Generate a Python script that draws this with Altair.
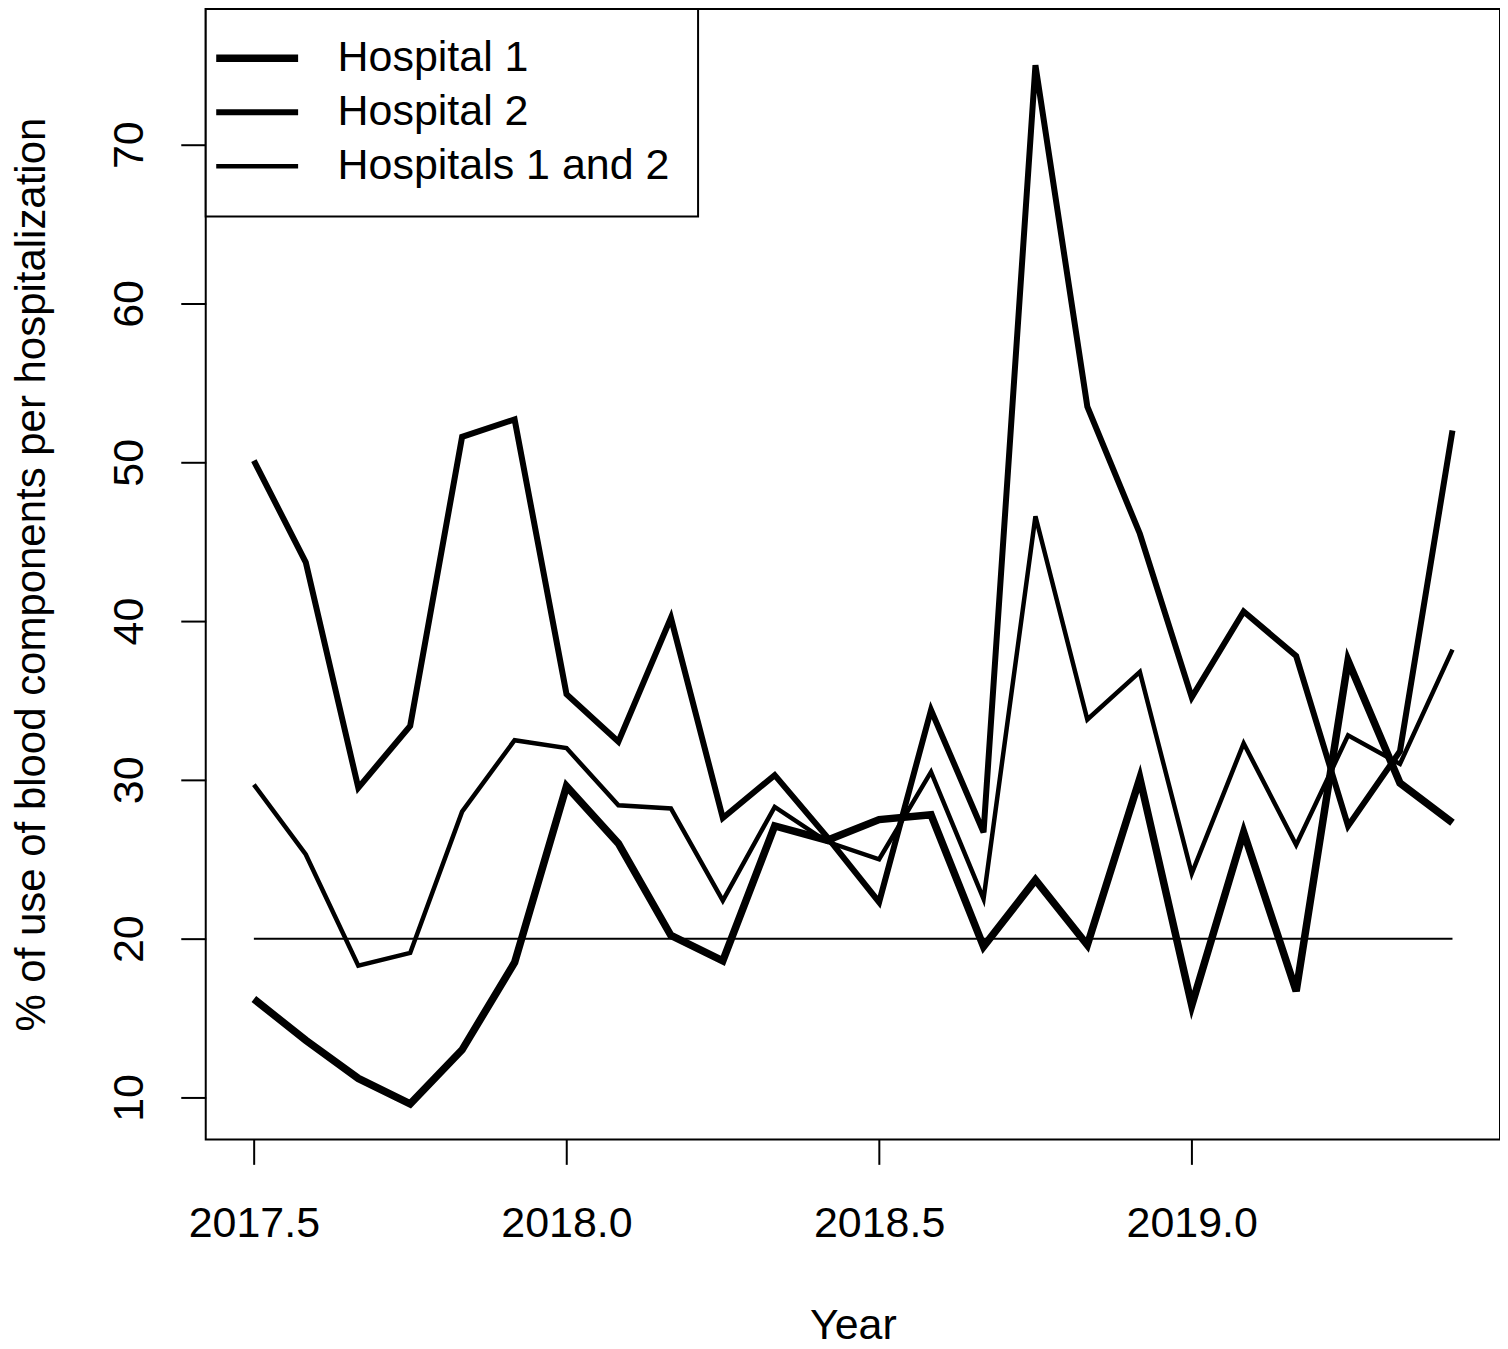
import altair as alt
import pandas as pd

years = [2017.500, 2017.583, 2017.667, 2017.750, 2017.833, 2017.917,
         2018.000, 2018.083, 2018.167, 2018.250, 2018.333, 2018.417,
         2018.500, 2018.583, 2018.667, 2018.750, 2018.833, 2018.917,
         2019.000, 2019.083, 2019.167, 2019.250, 2019.333, 2019.417]

hospital1 = [16.2, 13.6, 11.2, 9.6, 13.0, 18.5, 29.6, 26.0, 20.2, 18.6, 27.1, 26.2,
             27.5, 27.8, 19.5, 23.7, 19.6, 30.1, 15.8, 26.7, 16.7, 37.5, 29.8, 27.3]
hospital2 = [50.1, 43.7, 29.5, 33.4, 51.6, 52.7, 35.4, 32.4, 40.2, 27.6, 30.3, 26.4,
             22.3, 34.4, 26.7, 75.0, 53.5, 45.5, 35.2, 40.6, 37.8, 27.1, 31.8, 52.0]
combined = [29.7, 25.3, 18.3, 19.1, 28.0, 32.5, 32.0, 28.4, 28.2, 22.4, 28.3, 26.1,
            25.0, 30.5, 22.5, 46.6, 33.8, 36.8, 24.1, 32.3, 25.9, 32.8, 31.0, 38.2]

series_names = ["Hospital 1", "Hospital 2", "Hospitals 1 and 2"]
reference_value = 20

x_ticks = [2017.5, 2018.0, 2018.5, 2019.0]
y_ticks = [10, 20, 30, 40, 50, 60, 70]

rows = []
for name, vals in zip(series_names, [hospital1, hospital2, combined]):
    for yr, v in zip(years, vals):
        rows.append({"series": name, "year": yr, "value": v})
df = pd.DataFrame(rows)

ref_df = pd.DataFrame({"x": [years[0]], "x2": [years[-1]], "y": [reference_value]})

FONT = "Liberation Sans"
W, H = 1296, 1132

x_scale = alt.Scale(domain=[2017.423, 2019.493], nice=False, zero=False)
y_scale = alt.Scale(domain=[7.36, 78.55], nice=False, zero=False)

x_axis = alt.Axis(values=x_ticks, format=".1f", title="Year", grid=False, domain=False,
                  tickSize=25, tickWidth=2, tickColor="black",
                  labelFont=FONT, labelFontSize=43, labelColor="black",
                  labelBaseline="alphabetic", labelPadding=72, labelFlush=False,
                  titleFont=FONT, titleFontSize=43, titleFontWeight="normal", titleColor="black",
                  titleBaseline="alphabetic", titleY=199, titleX=W / 2)
y_axis = alt.Axis(values=y_ticks, format="d",
                  title="% of use of blood components per hospitalization",
                  grid=False, domain=False,
                  tickSize=25, tickWidth=2, tickColor="black",
                  labelFont=FONT, labelFontSize=43, labelColor="black",
                  labelAngle=270, labelAlign="center", labelBaseline="alphabetic",
                  labelPadding=38, labelFlush=False,
                  titleFont=FONT, titleFontSize=42, titleFontWeight="normal", titleColor="black",
                  titleAngle=270, titleBaseline="alphabetic", titleAlign="center",
                  titleX=-161, titleY=H / 2)

lines = alt.Chart(df).mark_line(color="black", strokeJoin="miter").encode(
    x=alt.X("year:Q", scale=x_scale, axis=x_axis),
    y=alt.Y("value:Q", scale=y_scale, axis=y_axis),
    detail="series:N",
    strokeWidth=alt.StrokeWidth(
        "series:N",
        scale=alt.Scale(domain=series_names, range=[7.5, 4.5, 1.6]),
        legend=alt.Legend(title=None, orient="top-left", offset=0, padding=28,
                          strokeColor="black", fillColor="white",
                          symbolType="M-2.5,0H2.5", symbolSize=1076,
                          symbolOffset=2,
                          symbolStrokeColor="black",
                          labelFont=FONT, labelFontSize=43, labelColor="black",
                          labelOffset=59, rowPadding=10, labelLimit=600),
    ),
)

ref = alt.Chart(ref_df).mark_rule(color="black", strokeWidth=2).encode(
    x=alt.X("x:Q", scale=x_scale),
    x2="x2:Q",
    y=alt.Y("y:Q", scale=y_scale),
)

chart = alt.layer(ref, lines).properties(
    width=W, height=H,
    autosize=alt.AutoSizeParams(type="none"),
    padding={"left": 198, "top": 0, "right": 0, "bottom": 209},
    background="white",
).configure_view(stroke="black", strokeWidth=2).configure_legend(strokeWidth=2)

chart.save("out.html", embed_options={"renderer": "svg", "actions": False})
